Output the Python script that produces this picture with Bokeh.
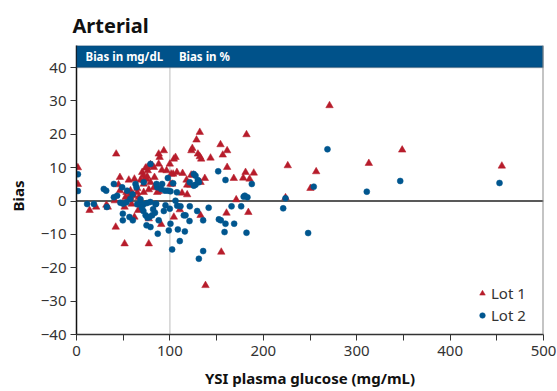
from bokeh.plotting import figure
from bokeh.models import (FixedTicker, Label, BoxAnnotation, Span, Legend, LegendItem, Range1d, Title)
from bokeh.embed import file_html
from bokeh.resources import INLINE

# ---- data ----
lot1_x = [1.5, 1.5, 14, 21, 32, 33.5, 42.5, 42, 46.5, 46.5, 45, 41, 52.5, 51.5, 51.5,
          56, 57.8, 59, 62, 57.8, 65, 61.3, 62, 66, 68.5, 71.4, 70.3, 73.9, 76.3, 79.2,
          81, 82.8, 75.7, 83.5, 88, 89, 93.5, 88, 75, 79.2, 72, 77.4, 77.4, 88, 90.7,
          96.4, 99.9, 101.4, 103.5, 100.6, 102.4, 104.2, 106, 107.5, 113.6, 104.2, 110.6,
          113, 118.5, 117.8, 118.5, 122, 122.8, 125, 123, 124, 128.5, 132, 130, 132,
          133.5, 132.8, 137.4, 132.8, 138.1, 143.5, 154.2, 156.6, 161.3, 161.3, 155,
          160.6, 168.4, 171, 178.5, 181, 182, 184, 185.3, 189.8, 223.8, 226.2, 250.5,
          256.6, 270.9, 313, 348.7, 455.4,
          65, 66.7, 72, 77.4, 82.8, 86.4, 91.5, 75.7, 72, 53.5, 56.7]
lot1_y = [10.0, 5.0, -2.8, -1.8, -1.2, -1.8, 14.1, -7.8, 7.1, 3.1, 4.9, 0.1, 1.1, -1.8, -12.8,
          6.3, 1.1, -0.9, 6.6, 3.1, 2.6, 1.6, -4.8, -2.8, 6.3, 7.6, 8.6, 9.9, 9.1, 10.9,
          10.6, 10.1, 10.1, 7.1, 14.1, 13.1, 15.1, 11.1, 6.6, 5.6, 5.1, -5.3, -12.8, 2.9, -7.0,
          9.1, 11.1, 8.1, 8.1, 5.1, 5.1, 12.6, 13.1, 8.6, 8.3, -4.8, -2.6,
          2.4, 1.9, 6.3, 4.8, 4.8, 7.8, 7.8, 15.1, 15.8, 18.3, 20.6, 14.1, 13.3,
          12.6, 5.6, 6.8, -4.3, -25.3, 12.9, 16.9, 13.8, 15.1, 10.1, -15.3,
          -3.6, 6.8, 0.4, 6.9, 8.6, 19.9, -3.4, 6.6, 8.4, 1.0, 10.6, 3.8,
          8.8, 28.6, 11.3, 15.3, 10.5,
          3.8, 1.1, 2.6, 3.4, 4.0, 2.6, 9.3, 7.3, 6.3, 2.6, 1.6]

lot2_x = [1.5, 1.5, 11.4, 18.6, 29.2, 31.8, 32.5, 40, 40, 43.5, 48.9, 54.2, 47, 50, 53.5,
          49.6, 49.6, 56.7, 60.3, 57.5, 63.2, 64.2, 72, 65, 68.5, 72, 75.6, 79, 71.6, 74,
          81, 78, 75, 79.2, 88, 87, 84.6, 93.5, 95.3, 99.9, 100.6, 98.8, 102.4, 106, 107.8,
          108.5, 111.3, 110.6, 114.9, 116.7, 116, 121.3, 121, 129.2, 131, 135.6, 135.6,
          141.5, 152.4, 154.5, 158.5, 159.5, 166, 168.8, 176.3, 179, 180.2, 183, 182, 187.7,
          159.5, 151.7, 79.2, 125.6, 127.4, 121.3, 127.4, 129.9, 125.6, 131, 103.5, 97.8,
          91.7, 97.8, 100.6, 86.4, 85.3, 85.7, 90.6, 107.5, 94.7, 221.3, 223.8, 248, 254,
          268.7, 310.8, 346.6, 452.9, 68.5, 70, 76, 82, 84, 60]
lot2_y = [8.0, 3.0, -0.9, -0.9, 3.6, 3.1, -1.8, 5.1, 1.1, 1.6, 4.1, 3.1, -0.5, -0.8, -0.4,
          -3.8, -5.8, -4.8, -5.8, 0.6, 5.1, 4.1, 5.6, -1.0, -0.8, -1.0, -0.6, -0.3, -3.0, -4.3,
          -4.3, -4.8, -7.3, -7.8, -5.8, -9.8, -1.0, -3.0, -1.3, -2.3, -6.8, -8.8, -14.5, 0.1, -1.4,
          -8.5, -1.6, -12.0, -4.3, -4.3, -9.1, -1.6, -6.0, -3.0, -17.3, -15.0, -5.8,
          -2.0, -5.5, -5.8, -9.3, -6.8, -1.6, -6.8, -1.6, 1.3, 1.6, 1.1, -9.5, 5.1,
          6.3, 8.9, 11.1, 8.1, 7.6, 5.6, 4.9, 6.3, 4.6, 5.6, 5.3, 6.9,
          5.1, 3.1, 2.9, 4.1, -0.8, 5.1, 3.6, 2.6, 3.1, -2.2, 0.8, -9.6, 4.3,
          15.5, 2.8, 6.0, 5.4, 0.5, -2.0, -5.0, -2.5, -3.5, 2.0]

x_ticks = [0, 100, 200, 300, 400, 500]
x_minor = [50, 150, 250, 350, 450]
y_ticks = [-40, -30, -20, -10, 0, 10, 20, 30, 40]
y_labels = {-40: "\u221240", -30: "\u221230", -20: "\u221220", -10: "\u221210",
            0: "0", 10: "10", 20: "20", 30: "30", 40: "40"}
series_names = ["Lot 1", "Lot 2"]
header_labels = ["Bias in mg/dL", "Bias in %"]

RED = "#b71c2b"
BLUE = "#00568f"
HEAD = "#00528a"
FONT = "Noto Sans"
TXT = "#333333"

HEAD_TOP = 46.6

p = figure(width=557, height=391, output_backend="svg", toolbar_location=None,
           x_range=Range1d(0, 500), y_range=Range1d(-40, HEAD_TOP),
           min_border_left=76, min_border_right=14, min_border_top=45, min_border_bottom=57)
p.outline_line_color = None
p.xgrid.visible = False
p.ygrid.visible = False
p.background_fill_color = "white"
p.border_fill_color = "white"

# title
p.title.text = "Arterial"
p.title.align = "left"
p.title.offset = -4
p.title.text_font = FONT
p.title.text_font_style = "bold"
p.title.text_font_size = "20px"
p.title.text_color = "#111111"
p.title.standoff = 13

# axes
xa = p.xaxis[0]
xa.ticker = FixedTicker(ticks=x_ticks, minor_ticks=x_minor)
xa.major_tick_out = 6
xa.major_tick_in = 0
xa.minor_tick_out = 6
xa.minor_tick_in = 0
xa.axis_line_color = "#333333"
xa.major_tick_line_color = "#333333"
xa.minor_tick_line_color = "#333333"
xa.axis_line_width = 1.5
xa.major_label_text_font = FONT
xa.major_label_text_font_size = "15px"
xa.major_label_text_color = TXT
xa.axis_label = "YSI plasma glucose (mg/mL)"
xa.axis_label_text_font = FONT
xa.axis_label_text_font_style = "bold"
xa.axis_label_text_font_size = "15px"
xa.axis_label_text_color = "#111111"
xa.axis_label_standoff = 9

ya = p.yaxis[0]
ya.ticker = FixedTicker(ticks=y_ticks)
ya.major_label_overrides = y_labels
ya.major_tick_out = 6
ya.major_tick_in = 0
ya.minor_tick_line_color = None
ya.axis_line_color = "#111111"
ya.axis_line_width = 1.5
ya.major_tick_line_color = "#333333"
ya.major_label_text_font = FONT
ya.major_label_text_font_size = "15px"
ya.major_label_text_color = TXT
ya.major_label_standoff = 4

# y axis title, placed as a left-side title so it centres on the plot area below the header
ytitle = Title(text="Bias", align="left", offset=123, vertical_align="top", text_font=FONT,
               text_font_style="bold", text_font_size="15px", text_color="#111111", standoff=15)
p.add_layout(ytitle, "left")

# reference lines
p.segment(x0=[100], y0=[-40], x1=[100], y1=[40], line_color="#c8c8c8", line_width=1.2)
p.segment(x0=[0], y0=[0], x1=[500], y1=[0], line_color="#222222", line_width=1.5)

# data
r1 = p.scatter(lot1_x, lot1_y, marker="triangle", size=7.5, fill_color=RED,
               line_color=RED, line_width=0.5)
r2 = p.scatter(lot2_x, lot2_y, marker="circle", size=6, fill_color=BLUE,
               line_color=BLUE, line_width=0.5)

# header bar
p.add_layout(BoxAnnotation(left=0, right=500, bottom=40, top=HEAD_TOP, fill_color=HEAD,
                           fill_alpha=1, line_color="#1b2a3a", line_width=1.5))
p.add_layout(Span(location=500, dimension="height", line_color="#8a8a8a", line_width=2))
p.segment(x0=[100], y0=[40], x1=[100], y1=[HEAD_TOP], line_color="#d5dde6", line_width=1)
for xv, txt in zip([0, 100], header_labels):
    p.add_layout(Label(x=xv, y=(40 + HEAD_TOP) / 2, x_offset=9, text=txt,
                       text_font=FONT, text_font_style="bold", text_font_size="11.5px",
                       text_color="white", text_baseline="middle", text_align="left"))

legend = Legend(items=[LegendItem(label=series_names[0], renderers=[r1]),
                       LegendItem(label=series_names[1], renderers=[r2])],
                location=(399, 9), border_line_color=None, background_fill_alpha=0,
                padding=0, margin=0, spacing=2, glyph_width=14, glyph_height=20,
                label_height=20, label_standoff=2, label_text_font=FONT,
                label_text_font_size="15px", label_text_color=TXT)
p.add_layout(legend)

open("out.html", "w").write(file_html(p, INLINE))
